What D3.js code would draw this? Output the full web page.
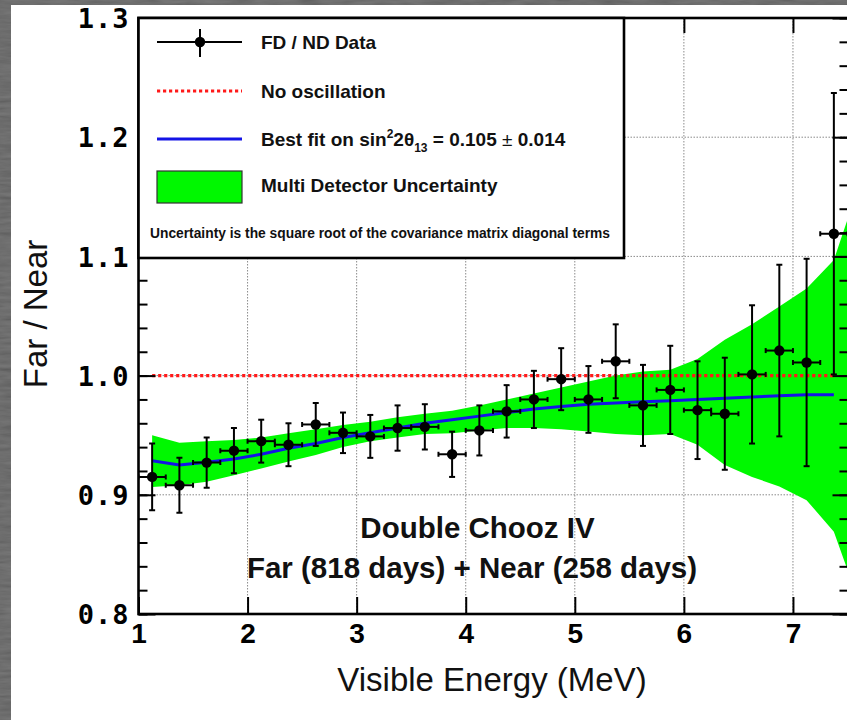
<!DOCTYPE html>
<html>
<head>
<meta charset="utf-8">
<script src="https://cdn.jsdelivr.net/npm/d3@7"></script>
<style>
  html, body { margin: 0; padding: 0; background: #4c4c4c; }
  svg { display: block; }
</style>
</head>
<body>
<svg id="chart" width="847" height="720"></svg>
<script>
// ---- data ----------------------------------------------------------------
// Far/Near ratio per 0.25 MeV bin (bin centres), with its error
const binCenters = [1.125, 1.375, 1.625, 1.875, 2.125, 2.375, 2.625, 2.875, 3.125, 3.375,
                    3.625, 3.875, 4.125, 4.375, 4.625, 4.875, 5.125, 5.375, 5.625, 5.875,
                    6.125, 6.375, 6.625, 6.875, 7.125, 7.375];
const ratio      = [0.915, 0.908, 0.927, 0.937, 0.945, 0.942, 0.959, 0.952, 0.949, 0.956,
                    0.957, 0.934, 0.954, 0.970, 0.980, 0.997, 0.980, 1.012, 0.975, 0.988,
                    0.971, 0.968, 1.001, 1.021, 1.011, 1.119];
const ratioErr   = [0.028, 0.023, 0.021, 0.019, 0.018, 0.018, 0.018, 0.017, 0.018, 0.019,
                    0.019, 0.019, 0.021, 0.022, 0.024, 0.026, 0.028, 0.031, 0.034, 0.037,
                    0.041, 0.047, 0.058, 0.072, 0.087, 0.118];
const binHalfWidth = [0.125];

// best fit prediction (sin^2 2θ13 = 0.105) at the bin centres
const bestFit    = [0.9285, 0.925, 0.9273, 0.930, 0.934, 0.939, 0.943, 0.948, 0.952, 0.956,
                    0.960, 0.963, 0.966, 0.969, 0.972, 0.974, 0.976, 0.977, 0.978, 0.979,
                    0.980, 0.981, 0.982, 0.983, 0.984, 0.984];

// no-oscillation reference
const noOscX = [1.125, 7.375];
const noOscY = [1.0, 1.0];

// multi detector uncertainty envelope
const bandX    = [1.125, 1.375, 1.625, 1.875, 2.125, 2.375, 2.625, 2.875, 3.125, 3.375,
                  3.625, 3.875, 4.125, 4.375, 4.625, 4.875, 5.125, 5.375, 5.625, 5.875,
                  6.125, 6.375, 6.625, 6.875, 7.125, 7.375, 7.5];
const bandLow  = [0.9065, 0.908, 0.911, 0.9165, 0.922, 0.928, 0.9334, 0.940, 0.945, 0.948,
                  0.951, 0.9516, 0.954, 0.956, 0.956, 0.955, 0.953, 0.951, 0.950, 0.951,
                  0.942, 0.925, 0.915, 0.907, 0.8955, 0.869, 0.837];
const bandHigh = [0.950, 0.9437, 0.945, 0.946, 0.948, 0.9516, 0.955, 0.9586, 0.9613, 0.965,
                  0.968, 0.9705, 0.975, 0.980, 0.985, 0.990, 0.995, 1.000, 1.0035, 1.005,
                  1.014, 1.030, 1.043, 1.058, 1.073, 1.097, 1.131];

// axes
const xDomain = [1, 7.5];
const yDomain = [0.8, 1.3];
const xTicks = [1, 2, 3, 4, 5, 6, 7];
const yTicks = [0.8, 0.9, 1.0, 1.1, 1.2, 1.3];
const yMinorTicks = d3.range(0, 26).map(i => +(0.8 + i * 0.02).toFixed(2));
const xGrid = [2, 3, 4, 5, 6, 7];
const yGrid = [0.9, 1.0, 1.1, 1.2];

// ---- drawing -------------------------------------------------------------
const svg = d3.select('#chart');
const defs = svg.append('defs');

// slate backdrop texture
const slate = defs.append('filter').attr('id', 'slate')
  .attr('x', 0).attr('y', 0).attr('width', '100%').attr('height', '100%');
slate.append('feTurbulence').attr('type', 'fractalNoise')
  .attr('baseFrequency', '0.04 0.25').attr('numOctaves', 3).attr('seed', 7);
slate.append('feColorMatrix').attr('type', 'matrix')
  .attr('values', '0.33 0.33 0.33 0 0  0.33 0.33 0.33 0 0  0.33 0.33 0.33 0 0  0 0 0 0 1');

svg.append('rect').attr('width', 847).attr('height', 720).attr('fill', '#4c4c4c');
svg.append('rect').attr('width', 847).attr('height', 720)
  .attr('filter', 'url(#slate)').attr('opacity', 0.3);

// white canvas
svg.append('rect').attr('x', 11).attr('y', 5).attr('width', 836).attr('height', 715).attr('fill', '#ffffff');

const plot = { left: 138.5, right: 847.5, top: 18, bottom: 614 };
const x = d3.scaleLinear().domain(xDomain).range([plot.left, plot.right]);
const y = d3.scaleLinear().domain(yDomain).range([plot.bottom, plot.top]);

defs.append('clipPath').attr('id', 'plotClip')
  .append('rect').attr('x', plot.left).attr('y', plot.top)
  .attr('width', plot.right - plot.left).attr('height', plot.bottom - plot.top);

// grid
const grid = svg.append('g').attr('stroke', '#8a8a8a').attr('stroke-width', 1)
  .attr('stroke-dasharray', '1.5,1.5');
grid.selectAll('.gx').data(xGrid).join('line')
  .attr('x1', d => x(d)).attr('x2', d => x(d))
  .attr('y1', plot.top).attr('y2', plot.bottom);
grid.selectAll('.gy').data(yGrid).join('line')
  .attr('x1', plot.left).attr('x2', plot.right)
  .attr('y1', d => y(d)).attr('y2', d => y(d));

const inner = svg.append('g').attr('clip-path', 'url(#plotClip)');

// uncertainty band
const band = bandX.map((v, i) => ({ x: v, lo: bandLow[i], hi: bandHigh[i] }));
inner.append('path').datum(band)
  .attr('fill', '#00f800')
  .attr('d', d3.area().x(d => x(d.x)).y0(d => y(d.lo)).y1(d => y(d.hi)));

// no oscillation
inner.append('path').datum(noOscX.map((v, i) => [v, noOscY[i]]))
  .attr('fill', 'none').attr('stroke', '#ff1a1a').attr('stroke-width', 3.2)
  .attr('stroke-dasharray', '3.2,2.8')
  .attr('d', d3.line().x(d => x(d[0])).y(d => y(d[1])));

// best fit
inner.append('path').datum(binCenters.map((v, i) => [v, bestFit[i]]))
  .attr('fill', 'none').attr('stroke', '#1414e6').attr('stroke-width', 3)
  .attr('d', d3.line().x(d => x(d[0])).y(d => y(d[1])));

// data points with error bars
const pts = binCenters.map((v, i) => ({ x: v, y: ratio[i], e: ratioErr[i], w: binHalfWidth[0] }));
const pg = inner.append('g').attr('stroke', '#000').attr('stroke-width', 2);
pg.selectAll('.ey').data(pts).join('line')
  .attr('x1', d => x(d.x)).attr('x2', d => x(d.x))
  .attr('y1', d => y(d.y - d.e)).attr('y2', d => y(d.y + d.e));
pg.selectAll('.ex').data(pts).join('line')
  .attr('x1', d => x(d.x - d.w)).attr('x2', d => x(d.x + d.w))
  .attr('y1', d => y(d.y)).attr('y2', d => y(d.y));
pg.selectAll('.ct').data(pts).join('line')
  .attr('x1', d => x(d.x) - 3).attr('x2', d => x(d.x) + 3)
  .attr('y1', d => y(d.y + d.e)).attr('y2', d => y(d.y + d.e));
pg.selectAll('.cb').data(pts).join('line')
  .attr('x1', d => x(d.x) - 3).attr('x2', d => x(d.x) + 3)
  .attr('y1', d => y(d.y - d.e)).attr('y2', d => y(d.y - d.e));
pg.selectAll('.cl').data(pts).join('line')
  .attr('x1', d => x(d.x - d.w)).attr('x2', d => x(d.x - d.w))
  .attr('y1', d => y(d.y) - 2.5).attr('y2', d => y(d.y) + 2.5);
pg.selectAll('.cr').data(pts).join('line')
  .attr('x1', d => x(d.x + d.w)).attr('x2', d => x(d.x + d.w))
  .attr('y1', d => y(d.y) - 2.5).attr('y2', d => y(d.y) + 2.5);
inner.append('g').selectAll('circle').data(pts).join('circle')
  .attr('cx', d => x(d.x)).attr('cy', d => y(d.y)).attr('r', 5.2).attr('fill', '#000');

// axes with inward ticks
function styleAxis(g) {
  g.select('.domain').remove();
  g.selectAll('.tick line').attr('stroke', '#000').attr('stroke-width', 2);
}
svg.append('g').attr('transform', `translate(0,${plot.bottom})`)
  .call(d3.axisBottom(x).tickValues(xTicks).tickSizeInner(-17).tickSizeOuter(0).tickPadding(9)
        .tickFormat(d3.format('d')))
  .call(styleAxis)
  .call(g => g.selectAll('text').attr('fill', '#000')
        .attr('font-family', 'Liberation Sans, Arial, sans-serif').attr('font-weight', 'bold')
        .attr('font-size', 28));
svg.append('g').attr('transform', `translate(0,${plot.top})`)
  .call(d3.axisTop(x).tickValues(xTicks).tickSizeInner(-15).tickSizeOuter(0).tickFormat(''))
  .call(styleAxis);
svg.append('g').attr('transform', `translate(${plot.left},0)`)
  .call(d3.axisLeft(y).tickValues(yMinorTicks).tickSizeInner(-9).tickSizeOuter(0).tickFormat(''))
  .call(styleAxis);
svg.append('g').attr('transform', `translate(${plot.left},0)`)
  .call(d3.axisLeft(y).tickValues(yTicks).tickSizeInner(-17).tickSizeOuter(0).tickPadding(9)
        .tickFormat(d3.format('.1f')))
  .call(styleAxis)
  .call(g => g.selectAll('text').attr('fill', '#000')
        .attr('font-family', 'DejaVu Sans Mono, monospace').attr('font-size', 27)
        .attr('font-weight', 'bold').attr('letter-spacing', 1).attr('dy', '0.36em'));
svg.append('g').attr('transform', `translate(${plot.right},0)`)
  .call(d3.axisRight(y).tickValues(yMinorTicks).tickSizeInner(-8).tickSizeOuter(0).tickFormat(''))
  .call(styleAxis);
svg.append('g').attr('transform', `translate(${plot.right},0)`)
  .call(d3.axisRight(y).tickValues(yTicks).tickSizeInner(-15).tickSizeOuter(0).tickFormat(''))
  .call(styleAxis);

// frame
svg.append('rect').attr('x', plot.left).attr('y', plot.top)
  .attr('width', plot.right - plot.left + 1.5).attr('height', plot.bottom - plot.top)
  .attr('fill', 'none').attr('stroke', '#000').attr('stroke-width', 2.6);

// axis titles
svg.append('text').attr('x', 492).attr('y', 691).attr('text-anchor', 'middle')
  .attr('font-family', 'Liberation Sans, Arial, sans-serif').attr('font-size', 33).attr('fill', '#111')
  .text('Visible Energy (MeV)');
svg.append('text').attr('transform', 'translate(47,314) rotate(-90)').attr('text-anchor', 'middle')
  .attr('font-family', 'Liberation Sans, Arial, sans-serif').attr('font-size', 33).attr('fill', '#111')
  .text('Far / Near');

// experiment label
const lab = svg.append('g').attr('font-family', 'Liberation Sans, Arial, sans-serif')
  .attr('font-weight', 'bold').attr('font-size', 29.5).attr('fill', '#111').attr('text-anchor', 'middle');
lab.append('text').attr('x', 477.5).attr('y', 538).text('Double Chooz IV');
lab.append('text').attr('x', 472).attr('y', 578).text('Far (818 days) + Near (258 days)');

// legend
const leg = svg.append('g');
leg.append('rect').attr('x', plot.left).attr('y', plot.top).attr('width', 624 - plot.left).attr('height', 258 - plot.top)
  .attr('fill', '#fff').attr('stroke', '#000').attr('stroke-width', 2.6);
const lx0 = 157, lx1 = 242, lxm = 200, tx = 261;
leg.append('line').attr('x1', lx0).attr('x2', lx1).attr('y1', 42).attr('y2', 42).attr('stroke', '#000').attr('stroke-width', 2);
leg.append('line').attr('x1', lxm).attr('x2', lxm).attr('y1', 29).attr('y2', 57).attr('stroke', '#000').attr('stroke-width', 2);
leg.append('circle').attr('cx', lxm).attr('cy', 42).attr('r', 5.2).attr('fill', '#000');
leg.append('line').attr('x1', lx0).attr('x2', lx1).attr('y1', 91).attr('y2', 91)
  .attr('stroke', '#ff1a1a').attr('stroke-width', 3.2).attr('stroke-dasharray', '3.2,2.8');
leg.append('line').attr('x1', lx0).attr('x2', lx1).attr('y1', 139).attr('y2', 139)
  .attr('stroke', '#1414e6').attr('stroke-width', 3);
leg.append('rect').attr('x', lx0).attr('y', 171).attr('width', lx1 - lx0).attr('height', 32)
  .attr('fill', '#00f800').attr('stroke', '#333').attr('stroke-width', 1.2);

const lt = leg.append('g').attr('font-family', 'Liberation Sans, Arial, sans-serif')
  .attr('font-weight', 'bold').attr('font-size', 19).attr('fill', '#111');
lt.append('text').attr('x', tx).attr('y', 49).text('FD / ND Data');
lt.append('text').attr('x', tx).attr('y', 98).text('No oscillation');
const bf = lt.append('text').attr('x', tx).attr('y', 146);
bf.append('tspan').text('Best fit on sin');
bf.append('tspan').attr('dy', -8).attr('font-size', 12).text('2');
bf.append('tspan').attr('dy', 8).text('2θ');
bf.append('tspan').attr('dy', 6).attr('font-size', 12).text('13');
bf.append('tspan').attr('dy', -6).text(' = 0.105 ');
bf.append('tspan').attr('font-weight', 'normal').text('±');
bf.append('tspan').text(' 0.014');
lt.append('text').attr('x', tx).attr('y', 192).text('Multi Detector Uncertainty');
lt.append('text').attr('x', 150).attr('y', 238).attr('font-size', 13.8)
  .text('Uncertainty is the square root of the covariance matrix diagonal terms');
</script>
</body>
</html>
